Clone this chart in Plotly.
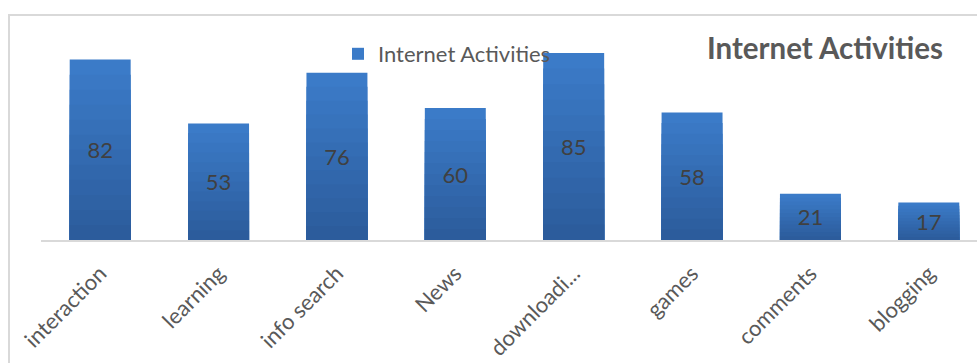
import plotly.graph_objects as go

categories = ["interaction", "learning", "info search", "News", "downloadi...", "games", "comments", "blogging"]
values = [82, 53, 76, 60, 85, 58, 21, 17]
series_name = "Internet Activities"
chart_title = "Internet Activities"

W, H = 977, 363
FONT = "Lato, 'Open Sans', sans-serif"
BAR_W = 0.515

fig = go.Figure()

# main bar (lightest colour, top of gradient) - carries the legend entry
fig.add_trace(go.Bar(
    x=categories, y=values, name=series_name,
    marker=dict(color="#3b7bc8", line=dict(width=0)),
    width=BAR_W, showlegend=True,
))

# gradient overlay bands (darker toward the base)
n = 12
top_c = (0x3b, 0x7b, 0xc8)
bot_c = (0x2c, 0x5c, 0x9c)
for i in range(1, n):
    f = 1 - i / n
    t = i / (n - 1)
    c = tuple(int(round(top_c[k] + (bot_c[k] - top_c[k]) * t)) for k in range(3))
    fig.add_trace(go.Bar(
        x=categories, y=[v * f for v in values],
        marker=dict(color="rgb(%d,%d,%d)" % c, line=dict(width=0)),
        width=BAR_W, showlegend=False, hoverinfo="skip",
    ))

# transparent bar on top carrying the value labels
fig.add_trace(go.Bar(
    x=categories, y=values,
    marker=dict(color="rgba(0,0,0,0)", line=dict(width=0)),
    text=[str(v) for v in values], textposition="inside", insidetextanchor="middle",
    textfont=dict(family=FONT, size=22, color="#404040"),
    width=BAR_W, showlegend=False, hoverinfo="skip",
))

ml, mr, mt, mb = 41, 0, 15, 123
pw = W - ml - mr
ph = H - mt - mb

fig.update_layout(
    width=W, height=H,
    margin=dict(l=ml, r=mr, t=mt, b=mb),
    paper_bgcolor="white", plot_bgcolor="white",
    barmode="overlay",
    font=dict(family=FONT, color="#595959"),
    title=dict(text="<b>%s</b>" % chart_title, x=(825 - ml) / pw, xref="paper", xanchor="center",
               y=1 - 48.5 / H, yref="container", yanchor="middle",
               font=dict(family=FONT, size=29.5, color="#595959")),
    showlegend=True,
    legend=dict(x=(338 - ml) / pw, y=(240 - 54) / ph, xanchor="left", yanchor="middle",
                bgcolor="rgba(0,0,0,0)", font=dict(family=FONT, size=22, color="#595959"),
                itemwidth=30),
    xaxis=dict(range=[-0.5, 7.5 - 11 / 118.4], showline=True, linecolor="#d9d9d9", linewidth=2,
               ticks="", tickangle=-45, showgrid=False, zeroline=False, ticklabelstandoff=10,
               tickfont=dict(family=FONT, size=22, color="#595959")),
    yaxis=dict(range=[0, ph / 2.2], visible=False, showgrid=False, zeroline=False),
    shapes=[dict(type="rect", xref="paper", yref="paper",
                 x0=(9 - ml) / pw, x1=1.05, y0=-0.7, y1=1.0,
                 line=dict(color="#d9d9d9", width=2), layer="below")],
)

fig.write_html("out.html")
